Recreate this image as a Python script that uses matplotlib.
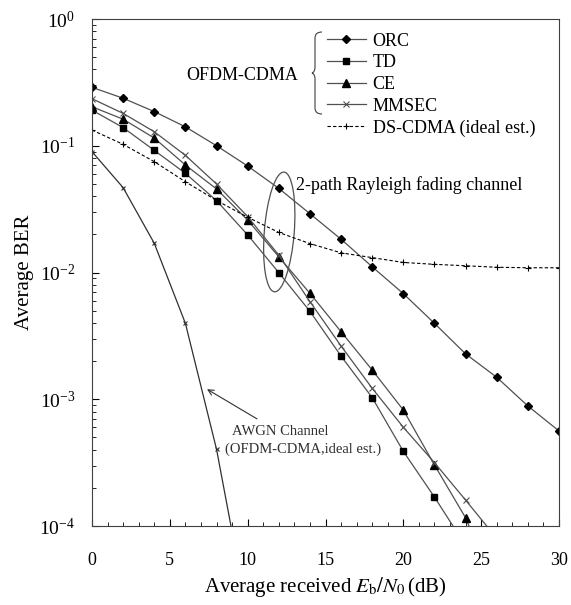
import matplotlib
matplotlib.use("Agg")
import matplotlib.pyplot as plt
from matplotlib.patches import Ellipse, PathPatch
from matplotlib.path import Path
import numpy as np

plt.rcParams["font.family"] = ["Liberation Serif", "DejaVu Serif"]
plt.rcParams["mathtext.fontset"] = "stix"

## data (Eb/N0 in dB, BER)
snr = [0, 2, 4, 6, 8, 10, 12, 14, 16, 18, 20, 22, 24, 26, 28, 30]
orc = [0.289, 0.237, 0.186, 0.141, 0.100, 0.0692, 0.0461, 0.0291, 0.0183,
       0.0111, 0.00681, 0.00397, 0.00228, 0.00149, 0.000885, 0.000562]
snr_td = [0, 2, 4, 6, 8, 10, 12, 14, 16, 18, 20, 22, 24]
td = [0.191, 0.139, 0.092, 0.0606, 0.0369, 0.0198, 0.00997, 0.00494,
      0.00219, 0.00103, 0.000388, 0.000169, 0.00007]
snr_ce = [0, 2, 4, 6, 8, 10, 12, 14, 16, 18, 20, 22, 24, 26]
ce = [0.203, 0.162, 0.115, 0.0705, 0.0456, 0.0259, 0.0133, 0.00685,
      0.00341, 0.0017, 0.000822, 0.000303, 0.000116, 0.00003]
snr_mm = [0, 2, 4, 6, 8, 10, 12, 14, 16, 18, 20, 22, 24, 26]
mmsec = [0.235, 0.180, 0.129, 0.0840, 0.0499, 0.0276, 0.0137, 0.00589,
         0.00263, 0.00122, 0.000601, 0.000316, 0.00016, 0.00008]
ds = [0.133, 0.1026, 0.0749, 0.052, 0.037, 0.0273, 0.0207, 0.0169, 0.0143,
      0.0131, 0.0120, 0.0116, 0.0113, 0.0110, 0.0109, 0.0109]
snr_awgn = [0, 2, 4, 6, 8, 10]
awgn = [0.0898, 0.0467, 0.017, 0.00397, 0.000403, 0.00002]

LC = "#505050"

fig = plt.figure(figsize=(5.71, 6.05), dpi=100)
ax = fig.add_axes([92/571., 79/605., 467/571., 507/605.])

h_orc, = ax.plot(snr, orc, color=LC, lw=0.9, marker="D", ms=4, mfc="k", mec="k", label="ORC")
h_td, = ax.plot(snr_td, td, color=LC, lw=0.9, marker="s", ms=5, mfc="k", mec="k", label="TD")
h_ce, = ax.plot(snr_ce, ce, color=LC, lw=0.9, marker="^", ms=5.5, mfc="k", mec="k", label="CE")
h_mm, = ax.plot(snr_mm, mmsec, color=LC, lw=0.9, marker="x", ms=5, mew=0.8, mec=LC, label="MMSEC")
h_ds, = ax.plot(snr, ds, color="k", lw=0.8, ls=(0, (3, 2)), marker="+", ms=5, mew=0.8, label="DS-CDMA (ideal est.)")
ax.plot(snr_awgn, awgn, color="#303030", lw=0.9, marker="x", ms=3.5, mew=0.8)

ax.set_yscale("log")
ax.set_xlim(0, 30)
ax.set_ylim(1e-4, 1)
ax.set_xticks([0, 5, 10, 15, 20, 25, 30])
ax.set_xticks(np.arange(0, 31, 1), minor=True)
ax.tick_params(which="both", direction="in", top=False, right=False)
ax.tick_params(which="major", length=5)
ax.tick_params(which="minor", length=3)
ax.tick_params(axis="x", pad=19, labelsize=13)
ax.tick_params(axis="y", pad=12, labelsize=14)
for s in ax.spines.values():
    s.set_linewidth(0.8)
    s.set_color("#404040")

ax.set_xlabel(r"Average received $E_\mathrm{b}/N_0\,$(dB)", fontsize=15, labelpad=4)
ax.set_ylabel("Average BER", fontsize=15, labelpad=4)

leg = ax.legend(handles=[h_orc, h_td, h_ce, h_mm, h_ds], frameon=False, fontsize=13,
                loc="upper left", bbox_to_anchor=(222/467., 1.0 - 1/507.),
                handlelength=2.2, handletextpad=0.35, labelspacing=0.26, borderpad=0.2)

fig.text(186/571., 1 - 75/605., "OFDM-CDMA", fontsize=13, va="center", ha="left")

## curly brace next to the OFDM-CDMA entries
def brace(x, y0, y1, w):
    ym = 0.5*(y0+y1)
    verts = [(x+w, y0), (x+0.3*w, y0), (x+0.3*w, y0+6), (x+0.3*w, y0+10),
             (x+0.3*w, ym-6), (x+0.3*w, ym-1), (x, ym),
             (x+0.3*w, ym+1), (x+0.3*w, ym+6), (x+0.3*w, y1-10),
             (x+0.3*w, y1-6), (x+0.3*w, y1), (x+w, y1)]
    codes = [Path.MOVETO, Path.CURVE3, Path.CURVE3, Path.LINETO,
             Path.LINETO, Path.CURVE3, Path.CURVE3,
             Path.CURVE3, Path.CURVE3, Path.LINETO,
             Path.LINETO, Path.CURVE3, Path.CURVE3]
    verts = [(vx/571., 1 - vy/605.) for vx, vy in verts]
    return PathPatch(Path(verts, codes), transform=fig.transFigure, fill=False,
                     lw=0.8, color="#404040")

fig.patches.append(brace(312, 32, 114, 10))

ax.add_patch(Ellipse((0.401, 0.580), 0.064, 0.237, angle=-5, transform=ax.transAxes,
                     fill=False, lw=0.9, color="#505050"))
ax.text(0.437, 0.672, "2-path Rayleigh fading channel", transform=ax.transAxes,
        fontsize=13, va="center", ha="left")

ax.annotate("", xy=(7.39, 1.2e-3), xytext=(10.6, 7.0e-4),
            arrowprops=dict(arrowstyle="->", color="#303030", lw=0.8,
                            shrinkA=0, shrinkB=0))
ax.text(9.0, 5.6e-4, "AWGN Channel", fontsize=10.5, color="#303030",
        ha="left", va="center")
ax.text(8.55, 4.03e-4, "(OFDM-CDMA,ideal est.)", fontsize=10.5, color="#303030",
        ha="left", va="center")

fig.savefig("out.png", dpi=100)
